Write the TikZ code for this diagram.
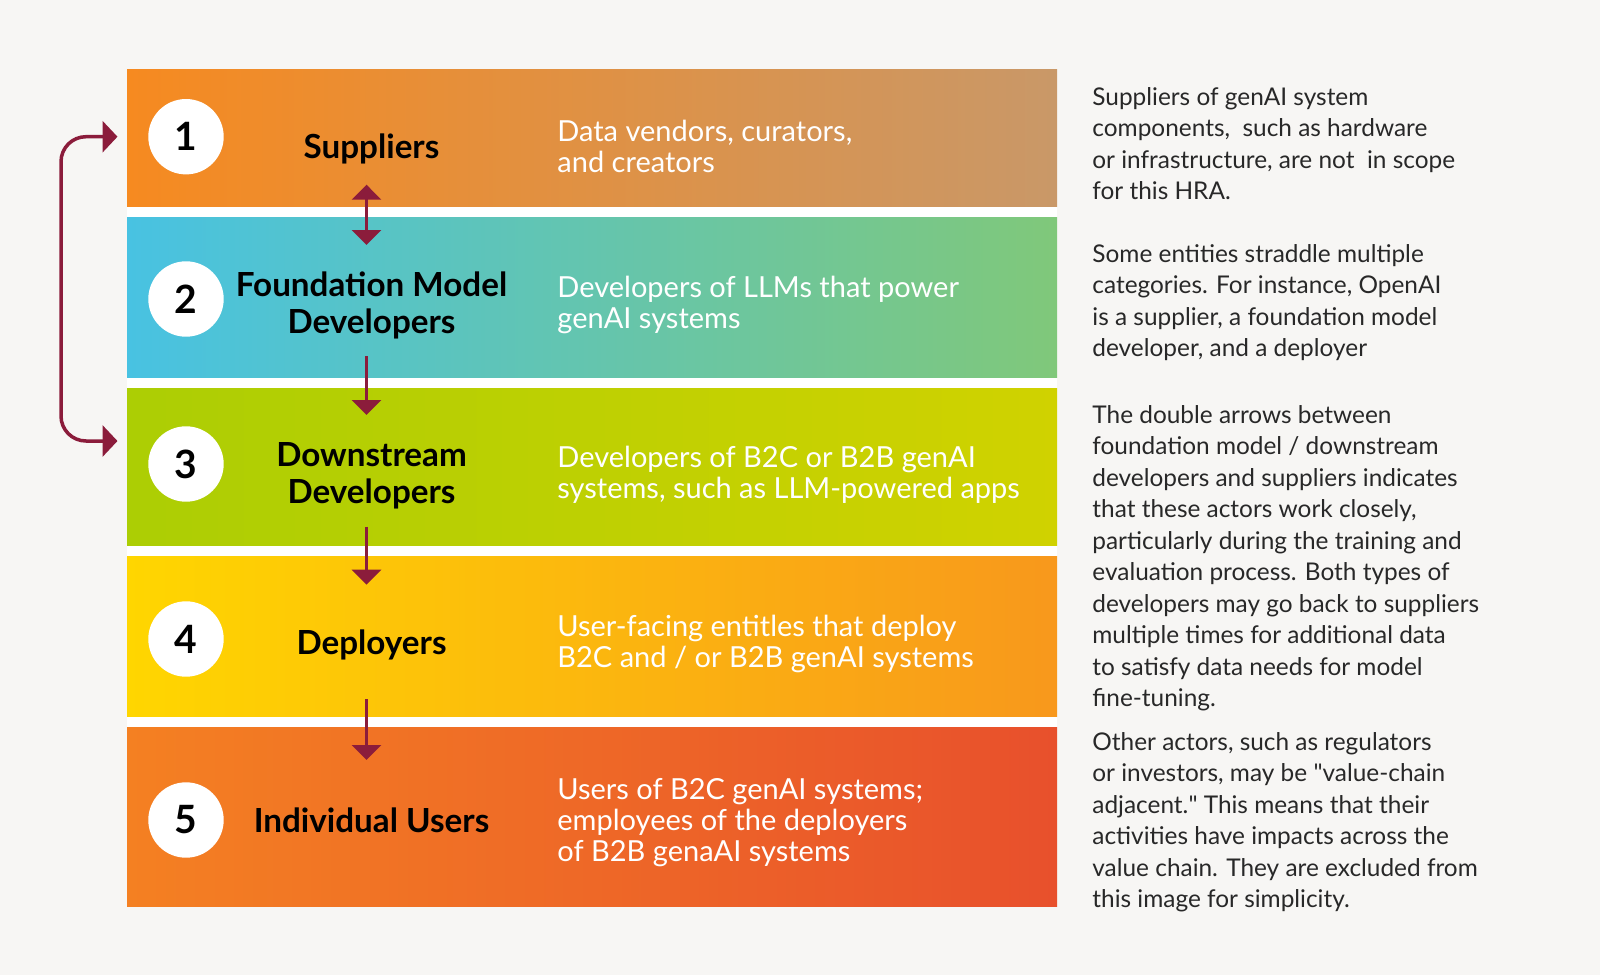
\documentclass[tikz,border=0pt]{standalone}
\usepackage{fontspec}
\setmainfont{Lato}
\usetikzlibrary{positioning,arrows.meta}

\definecolor{bgpage}{RGB}{247,246,244}
\definecolor{chain}{RGB}{139,28,59}
\definecolor{notegray}{RGB}{40,40,40}
\definecolor{supL}{RGB}{246,138,32}
\definecolor{supR}{RGB}{201,152,104}
\definecolor{fmdL}{RGB}{72,194,226}
\definecolor{fmdR}{RGB}{128,200,122}
\definecolor{dsdL}{RGB}{172,206,4}
\definecolor{dsdR}{RGB}{208,210,0}
\definecolor{depL}{RGB}{255,214,0}
\definecolor{depR}{RGB}{248,152,28}
\definecolor{usrL}{RGB}{244,128,34}
\definecolor{usrR}{RGB}{232,80,44}

\begin{document}
\begin{tikzpicture}[
  x=0.5pt, y=-0.5pt,
  num/.style  ={circle,fill=white,minimum size=37.7pt,inner sep=0pt,
                font=\fontsize{19.5}{20}\selectfont\bfseries},
  actor/.style={align=center,text=black,inner sep=0pt,
                font=\fontsize{16.6}{18.5}\selectfont\bfseries},
  desc/.style ={anchor=west,align=left,text=white,inner sep=0pt,
                font=\fontsize{14.5}{15.5}\selectfont},
  note/.style ={anchor=base west,align=left,text=notegray,inner sep=0pt,
                font=\fontsize{12.2}{15.75}\selectfont},
  tipA/.style ={arrows={-Triangle[width=14.5pt,length=7.5pt]}},
  link/.style ={draw=chain,line width=1.75pt}]
% --- page background and white strip behind the bands ---
\path[fill=bgpage,use as bounding box] (0,0) rectangle (1600,975);
\fill[white] (127,69.4) rectangle (1057,906);
% --- five shaded bands ---
\foreach \i/\yt/\yb/\cl/\cr in
  {1/69.4/206/supL/supR,
   2/217/377.6/fmdL/fmdR,
   3/388.8/545/dsdL/dsdR,
   4/556/716/depL/depR,
   5/727.5/906/usrL/usrR}
{
  \shade[left color=\cl,right color=\cr] (127,\yt) rectangle (1057,\yb);
}
% --- numbered discs ---
\foreach \i/\y in {1/136.7,2/299,3/464,4/639,5/820}
  \node[num] (n\i) at (186,\y) {\i};
% --- actor names ---
\node[actor] (sup) at (371.5,149)   {Suppliers};
\node[actor] (fmd) at (371.5,305.5) {Foundation Model\\Developers};
\node[actor] (dsd) at (371.5,475.5) {Downstream\\Developers};
\node[actor] (dep) at (371.5,645)   {Deployers};
\node[actor] (usr) at (371.5,820.5) {Individual Users};
% --- descriptions ---
\node[desc] (supd) at (557,146)   {Data vendors, curators,\\and creators};
\node[desc] (fmdd) at (557,305)   {Developers of LLMs that power\\genAI systems};
\node[desc] (dsdd) at (557,474.5) {Developers of B2C or B2B genAI\\systems, such as LLM-powered apps};
\node[desc] (depd) at (557,644)   {User-facing entitles that deploy\\B2C and / or B2B genAI systems};
\node[desc] (usrd) at (557,822.4) {Users of B2C genAI systems;\\employees of the deployers\\of B2B genaAI systems};
% --- arrows down the chain ---
\coordinate (a1t) at (366.5,184.7); \coordinate (a1b) at (366.5,245);
\coordinate (a2t) at (366.5,356);   \coordinate (a2b) at (366.5,415);
\coordinate (a3t) at (366.5,526.5); \coordinate (a3b) at (366.5,584.7);
\coordinate (a4t) at (366.5,699);   \coordinate (a4b) at (366.5,760);
\draw[link,arrows={Triangle[width=14.5pt,length=7.5pt]-Triangle[width=14.5pt,length=7.5pt]}] (a1t) -- (a1b);
\draw[link,tipA] (a2t) -- (a2b);
\draw[link,tipA] (a3t) -- (a3b);
\draw[link,tipA] (a4t) -- (a4b);
% --- loop back from downstream developers to suppliers ---
\coordinate (br1) at (117.5,136.7);
\coordinate (br3) at (117.5,441);
\draw[link,rounded corners=12.5pt,
  arrows={Triangle[width=15.5pt,length=7.5pt]-Triangle[width=15.5pt,length=7.5pt]}]
  (br1) -| (61,441) -- (br3);
% --- side notes (anchored on the last baseline) ---
\node[note] (note1) at (1092,199.5) {Suppliers of genAI system\\components,\ \ such as hardware\\or infrastructure, are not\ \ in scope\\for this HRA.};
\node[note] (note2) at (1092,356.5) {Some entities straddle multiple\\categories. For instance, OpenAI\\is a supplier, a foundation model\\developer, and a deployer};
\node[note] (note3) at (1092,706.5) {The double arrows between\\foundation model / downstream\\developers and suppliers indicates\\that these actors work closely,\\particularly during the training and\\evaluation process. Both types of\\developers may go back to suppliers\\multiple times for additional data\\to satisfy data needs for model\\fine-tuning.};
\node[note] (note4) at (1092,907.5) {Other actors, such as regulators\\or investors, may be \textquotedbl value-chain\\adjacent.\textquotedbl\ This means that their\\activities have impacts across the\\value chain. They are excluded from\\this image for simplicity.};
\end{tikzpicture}
\end{document}
